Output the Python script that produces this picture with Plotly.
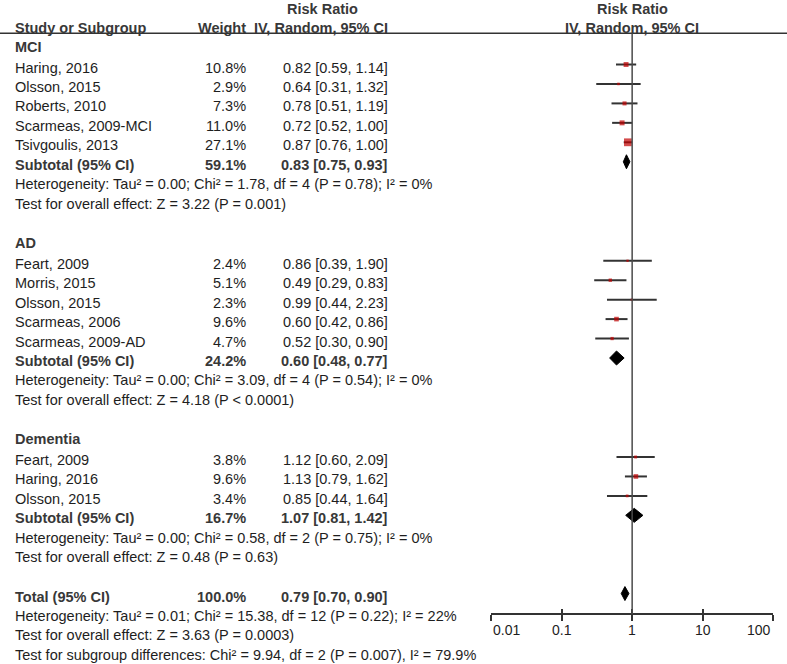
import numpy as np
import plotly.graph_objects as go

# ---- data ----
group_names = ["MCI", "AD", "Dementia"]

mci_study = ["Haring, 2016", "Olsson, 2015", "Roberts, 2010", "Scarmeas, 2009-MCI", "Tsivgoulis, 2013"]
mci_weight = [10.8, 2.9, 7.3, 11.0, 27.1]
mci_rr = [0.82, 0.64, 0.78, 0.72, 0.87]
mci_lo = [0.59, 0.31, 0.51, 0.52, 0.76]
mci_hi = [1.14, 1.32, 1.19, 1.00, 1.00]
mci_subtotal = [59.1, 0.83, 0.75, 0.93]
mci_het = "Heterogeneity: Tau² = 0.00; Chi² = 1.78, df = 4 (P = 0.78); I² = 0%"
mci_effect = "Test for overall effect: Z = 3.22 (P = 0.001)"

ad_study = ["Feart, 2009", "Morris, 2015", "Olsson, 2015", "Scarmeas, 2006", "Scarmeas, 2009-AD"]
ad_weight = [2.4, 5.1, 2.3, 9.6, 4.7]
ad_rr = [0.86, 0.49, 0.99, 0.60, 0.52]
ad_lo = [0.39, 0.29, 0.44, 0.42, 0.30]
ad_hi = [1.90, 0.83, 2.23, 0.86, 0.90]
ad_subtotal = [24.2, 0.60, 0.48, 0.77]
ad_het = "Heterogeneity: Tau² = 0.00; Chi² = 3.09, df = 4 (P = 0.54); I² = 0%"
ad_effect = "Test for overall effect: Z = 4.18 (P < 0.0001)"

dem_study = ["Feart, 2009", "Haring, 2016", "Olsson, 2015"]
dem_weight = [3.8, 9.6, 3.4]
dem_rr = [1.12, 1.13, 0.85]
dem_lo = [0.60, 0.79, 0.44]
dem_hi = [2.09, 1.62, 1.64]
dem_subtotal = [16.7, 1.07, 0.81, 1.42]
dem_het = "Heterogeneity: Tau² = 0.00; Chi² = 0.58, df = 2 (P = 0.75); I² = 0%"
dem_effect = "Test for overall effect: Z = 0.48 (P = 0.63)"

total = [100.0, 0.79, 0.70, 0.90]
total_het = "Heterogeneity: Tau² = 0.01; Chi² = 15.38, df = 12 (P = 0.22); I² = 22%"
total_effect = "Test for overall effect: Z = 3.63 (P = 0.0003)"
subgroup_diff = "Test for subgroup differences: Chi² = 9.94, df = 2 (P = 0.007), I² = 79.9%"

axis_ticks = [0.01, 0.1, 1, 10, 100]

# ---- layout constants (pixels) ----
W, H = 787, 664
STEP = 19.45
FONT = "Arial, Liberation Sans, sans-serif"
FS = 14.5
TXT = "#1e1e1e"
BOLD = "#383838"
X_NAME, X_WEIGHT, X_RR = 13, 248, 390
AXIS_Y = 614

fig = go.Figure()
annotations = []


def px(x):
    return x / W


def label(text, x, y, anchor="left", bold=False, size=FS):
    annotations.append(dict(
        text=f"<b>{text}</b>" if bold else text, x=px(x), y=y, xref="paper", yref="y",
        xanchor=anchor, yanchor="middle", showarrow=False,
        font=dict(family=FONT, size=size, color=BOLD if bold else TXT)))


def fmt_rr(rr, lo, hi):
    return f"{rr:.2f} [{lo:.2f}, {hi:.2f}]"


def diamond(vals, y):
    _, rr, lo, hi = vals
    fig.add_trace(go.Scatter(
        x=[lo, rr, hi, rr, lo], y=[y, y - 7, y, y + 7, y], mode="lines",
        fill="toself", fillcolor="black", line=dict(color="black", width=1),
        hoverinfo="skip", showlegend=False))


groups = [
    (group_names[0], mci_study, mci_weight, mci_rr, mci_lo, mci_hi, mci_subtotal, mci_het, mci_effect),
    (group_names[1], ad_study, ad_weight, ad_rr, ad_lo, ad_hi, ad_subtotal, ad_het, ad_effect),
    (group_names[2], dem_study, dem_weight, dem_rr, dem_lo, dem_hi, dem_subtotal, dem_het, dem_effect),
]

# headers
label("Study or Subgroup", X_NAME, 27.5, bold=True)
label("Weight", X_WEIGHT, 27.5, anchor="right", bold=True)
label("Risk Ratio", 322, 8.5, anchor="center", bold=True)
label("IV, Random, 95% CI", X_RR, 27.5, anchor="right", bold=True)
label("Risk Ratio", 632, 8.5, anchor="center", bold=True)
label("IV, Random, 95% CI", 632, 27.5, anchor="center", bold=True)

y = 46.7
for name, study, weight, rr, lo, hi, sub, het, eff in groups:
    label(name, X_NAME, y, bold=True)
    y += 20.8
    ys = []
    for s, w, r, l, h in zip(study, weight, rr, lo, hi):
        label(s, X_NAME, y)
        label(f"{w:.1f}%", X_WEIGHT, y, anchor="right")
        label(fmt_rr(r, l, h), X_RR, y, anchor="right")
        ys.append(y - 3)
        y += STEP
    # confidence intervals then weighted squares
    for l, h, yy in zip(lo, hi, ys):
        fig.add_trace(go.Scatter(x=[l, h], y=[yy, yy], mode="lines",
                                 line=dict(color="#333333", width=2),
                                 hoverinfo="skip", showlegend=False))
    fig.add_trace(go.Scatter(
        x=rr, y=ys, mode="markers",
        marker=dict(symbol="square", color="#c00000",
                    size=[1.5 * np.sqrt(w) for w in weight], line=dict(width=0)),
        hoverinfo="skip", showlegend=False))
    label("Subtotal (95% CI)", X_NAME, y, bold=True)
    label(f"{sub[0]:.1f}%", X_WEIGHT, y, anchor="right", bold=True)
    label(fmt_rr(*sub[1:]), X_RR, y, anchor="right", bold=True)
    diamond(sub, y - 3)
    y += STEP
    label(het, X_NAME, y)
    y += STEP
    label(eff, X_NAME, y)
    y += 39.3

label("Total (95% CI)", X_NAME, y, bold=True)
label(f"{total[0]:.1f}%", X_WEIGHT, y, anchor="right", bold=True)
label(fmt_rr(*total[1:]), X_RR, y, anchor="right", bold=True)
diamond(total, y - 3)
label(total_het, X_NAME, y + STEP)
label(total_effect, X_NAME, y + 2 * STEP)
label(subgroup_diff, X_NAME, y + 3 * STEP)

# axis tick labels, end labels kept inside the axis like RevMan
for i, t in enumerate(axis_ticks):
    anchor = "left" if i == 0 else ("right" if i == len(axis_ticks) - 1 else "center")
    annotations.append(dict(
        text=f"{t:g}", x=np.log10(t), y=629.5, xref="x", yref="y",
        xanchor=anchor, yanchor="middle", showarrow=False,
        font=dict(family=FONT, size=14, color=TXT)))

shapes = [
    dict(type="line", xref="paper", yref="y", x0=0, x1=1, y0=33.3, y1=33.3,
         line=dict(color="#333333", width=1.5)),
    dict(type="line", xref="x", yref="y", x0=1, x1=1, y0=33.3, y1=AXIS_Y,
         line=dict(color="#4a4a4a", width=1.5)),
]

axis_dom = [px(491), px(773.3)]
axis_pos = (H - AXIS_Y) / H
fig.update_layout(
    width=W, height=H, margin=dict(l=0, r=0, t=0, b=0),
    paper_bgcolor="white", plot_bgcolor="white",
    xaxis=dict(type="log", range=[-2, 2], domain=axis_dom, anchor="free", position=axis_pos,
               showgrid=False, zeroline=False, showline=True, linecolor="#333333", linewidth=1.5,
               ticks="outside", ticklen=6, tickwidth=1.5, tickcolor="#333333",
               tickvals=axis_ticks, showticklabels=False),
    xaxis2=dict(type="log", range=[-2, 2], domain=axis_dom, anchor="free", position=axis_pos,
                overlaying="x", showgrid=False, zeroline=False, showline=False,
                ticks="inside", ticklen=5, tickwidth=1.5, tickcolor="#333333",
                tickvals=axis_ticks, showticklabels=False),
    yaxis=dict(range=[H, 0], domain=[0, 1], visible=False),
    annotations=annotations, shapes=shapes,
)
# empty trace so the overlaid axis is drawn
fig.add_trace(go.Scatter(x=[1], y=[None], xaxis="x2", showlegend=False, hoverinfo="skip"))

# drop the default page margin so the 787x664 figure fills the window exactly
fig.write_html("out.html", config={"displayModeBar": False},
               post_script="document.body.style.margin='0';")
